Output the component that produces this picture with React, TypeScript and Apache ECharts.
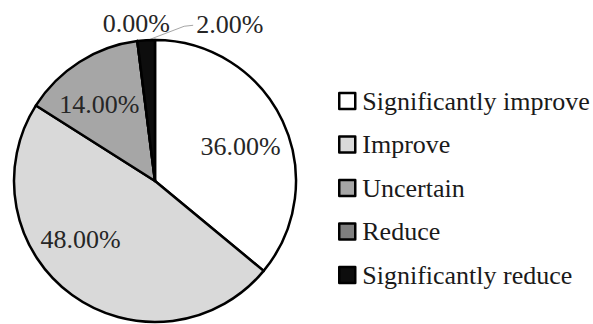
import React, { useEffect, useRef } from "react";
import * as echarts from "echarts";

const categories = [
  "Significantly improve",
  "Improve",
  "Uncertain",
  "Reduce",
  "Significantly reduce",
];
const values = [36, 48, 14, 0, 2];
const colors = ["#ffffff", "#d9d9d9", "#a6a6a6", "#7f7f7f", "#0d0d0d"];

const FONT = "'Liberation Serif', 'Times New Roman', serif";
const CENTER = [155, 181];
const R = 141;

export default function App() {
  const ref = useRef<HTMLDivElement>(null);
  useEffect(() => {
    if (!ref.current) return;
    const chart = echarts.init(ref.current, undefined, { renderer: "svg" });
    const fmt = (p: any) => Number(p.value).toFixed(2) + "%";
    const mainData = categories.map((name, i) => {
      const small = values[i] <= 2;
      return {
        name,
        value: values[i],
        itemStyle: { color: colors[i] },
        label: { show: small, position: "outside" },
        labelLine: {
          show: small,
          lineStyle: { color: "#a6a6a6", width: 1, opacity: i === 3 ? 0 : 1 },
        },
      };
    });
    const labelData = categories.map((name, i) => ({
      name,
      value: values[i],
      label: {
        show: values[i] > 2,
        offset: i === 1 ? [-19, -18] : i === 0 ? [0, 6] : [-5, 3],
      },
    }));
    chart.setOption({
      animation: false,
      backgroundColor: "#ffffff",
      textStyle: { fontFamily: FONT },
      legend: {
        orient: "vertical",
        left: 338,
        top: 88,
        padding: 0,
        itemWidth: 16,
        itemHeight: 16,
        itemGap: 17.5,
        icon: "rect",
        data: categories,
        textStyle: {
          fontFamily: FONT,
          fontSize: 26,
          lineHeight: 26,
          color: "#1a1a1a",
          padding: [0, 0, 0, 2],
        },
        itemStyle: { borderColor: "#000", borderWidth: 2.5 },
      },
      series: [
        {
          type: "pie",
          center: CENTER,
          radius: R,
          startAngle: 90,
          clockwise: true,
          avoidLabelOverlap: false,
          itemStyle: { borderColor: "#000", borderWidth: 2.5 },
          label: {
            formatter: fmt,
            fontFamily: FONT,
            fontSize: 26,
            color: "#262626",
          },
          labelLine: { length: 10, length2: 10 },
          emphasis: { disabled: true },
          data: mainData,
          labelLayout: (params: any) => {
            const pts = params.labelLinePoints;
            let p0: number[];
            if (pts && pts[0]) p0 = pts[0];
            else p0 = [params.rect.x + params.rect.width, params.rect.y];
            if (params.dataIndex === 3) {
              return {
                x: p0[0] - 1,
                y: p0[1] - 18,
                align: "center",
                verticalAlign: "middle",
              };
            }
            if (params.dataIndex === 4) {
              return {
                x: p0[0] + 50,
                y: p0[1] - 16,
                align: "left",
                verticalAlign: "middle",
                labelLinePoints: [
                  [p0[0] + 4, p0[1] - 1],
                  [p0[0] + 38, p0[1] - 14],
                  [p0[0] + 47, p0[1] - 15],
                ],
              };
            }
            return {};
          },
        },
        {
          type: "pie",
          center: CENTER,
          radius: [42, R],
          startAngle: 90,
          clockwise: true,
          silent: true,
          avoidLabelOverlap: false,
          itemStyle: { color: "rgba(0,0,0,0)", borderWidth: 0 },
          label: {
            position: "inside",
            formatter: fmt,
            fontFamily: FONT,
            fontSize: 26,
            color: "#262626",
          },
          labelLine: { show: false },
          emphasis: { disabled: true },
          data: labelData,
        },
      ],
    });
    return () => chart.dispose();
  }, []);
  return (
    <div
      ref={ref}
      style={{ position: "absolute", left: 0, top: 0, width: 593, height: 324 }}
    />
  );
}
